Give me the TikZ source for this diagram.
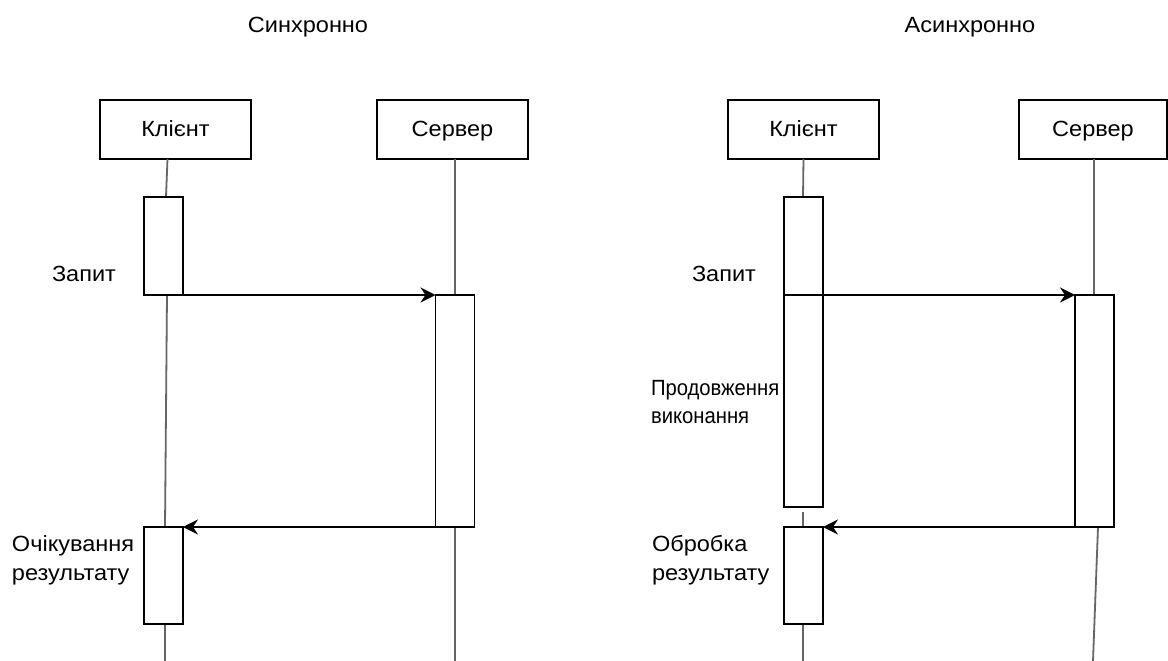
\documentclass[tikz,border=0pt]{standalone}
\usepackage{fontspec}
\setmainfont{Liberation Sans}
\newfontfamily\widesans[FakeStretch=1.07]{Liberation Sans}
\newfontfamily\narrowsans[FakeStretch=0.92]{Liberation Sans}
\usetikzlibrary{arrows.meta}
\begin{document}
\begin{tikzpicture}[x=1pt,y=-1pt,
  every node/.style={inner sep=0pt,outer sep=0pt,font=\widesans\fontsize{22}{29}\selectfont},
  actor/.style={draw=black,line width=1.6pt,minimum width=151pt,minimum height=59pt,
    text height=16pt,text depth=3pt},
  bar/.style={draw=black,line width=1.6pt,fill=white,minimum width=39pt},
  life/.style={draw=black!60,line width=1.8pt},
  msg/.style={draw=black,line width=1.5pt,-{Stealth[length=15pt,width=15pt,inset=5pt]}},
  lbl/.style={align=left}]
\useasboundingbox (0,0) rectangle (1168,661);

% ---- synchronous call ----
\node (t1) at (308,27) {Синхронно};
\node[actor] (c1) at (175.5,129.5) {Клієнт};
\node[actor] (s1) at (452.5,129.5) {Сервер};

\coordinate (c1a) at (166,197);
\coordinate (c1b) at (167,295);
\coordinate (c1c) at (165,527);
\coordinate (c1d) at (165,625);
\coordinate (c1e) at (165,661);
\coordinate (s1a) at (455,294);
\coordinate (s1b) at (455,527);
\coordinate (s1c) at (455,661);

\draw[life] (c1.south) ++(-8,0) -- (c1a);
\draw[life] (c1b) -- (c1c);
\draw[life] (c1d) -- (c1e);
\draw[life] (s1.south) ++(2.5,0) -- (s1a);
\draw[life] (s1b) -- (s1c);

\node[bar,minimum height=98pt] (c1x) at (163.5,246) {};
\node[bar,minimum height=232pt] (s1x) at (455,411) {};
\node[bar,minimum height=97pt] (c1y) at (163.5,575.5) {};

\draw[msg] (c1x.south east) -- (s1x.north west);
\draw[msg] (s1x.south west) -- (c1y.north east);

\node[anchor=east] (q1) at (116,274) {Запит};
\node[lbl,anchor=west] (w1) at (12,560) {Очікування\\результату};

% ---- asynchronous call ----
\node (t2) at (970,27) {Асинхронно};
\node[actor] (c2) at (803.5,129.5) {Клієнт};
\node[actor,minimum width=148pt] (s2) at (1093,129.5) {Сервер};

\coordinate (c2a) at (803,197);
\coordinate (c2b) at (803,512);
\coordinate (c2c) at (803,527);
\coordinate (c2d) at (803,625);
\coordinate (c2e) at (803,661);
\coordinate (s2a) at (1094,295);
\coordinate (s2b) at (1098,527);
\coordinate (s2c) at (1093,661);

\draw[life] (c2.south) -- (c2a);
\draw[life] (c2b) -- (c2c);
\draw[life] (c2d) -- (c2e);
\draw[life] (c2.south -| s2a) -- (s2a);
\draw[life] (s2b) -- (s2c);

\node[bar,minimum height=310pt] (c2x) at (803.5,352) {};
\node[bar,minimum height=232pt] (s2x) at (1094.5,411) {};
\node[bar,minimum height=97pt] (c2y) at (803.5,575.5) {};

\draw[msg] (c2x.west |- s2x.north west) -- (s2x.north west);
\draw[msg] (s2x.south west) -- (c2y.north east);

\node[anchor=east] (q2) at (756,274) {Запит};
\node[lbl,anchor=west,font=\narrowsans\fontsize{22}{28}\selectfont] (w2) at (651,402) {Продовження\\виконання};
\node[lbl,anchor=west] (w3) at (652,560) {Обробка\\результату};
\end{tikzpicture}
\end{document}
